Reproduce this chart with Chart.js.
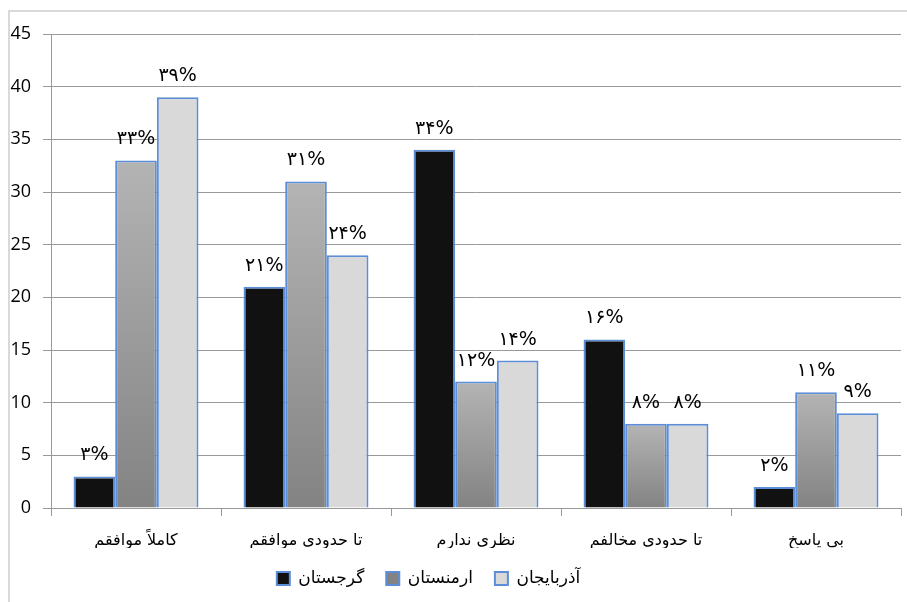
<!DOCTYPE html>
<html>
<head>
<meta charset="utf-8">
<script src="https://cdn.jsdelivr.net/npm/chart.js@4"></script>
<style>
  html, body { margin: 0; padding: 0; background: #fff; }
  #wrap { position: relative; width: 907px; height: 602px; }
</style>
</head>
<body>
<div id="wrap"><canvas id="chart" width="907" height="602"></canvas></div>
<script>
// Data
const categories = ["کاملاً موافقم", "تا حدودی موافقم", "نظری ندارم", "تا حدودی مخالفم", "بی پاسخ"];
const georgia = [3, 21, 34, 16, 2];
const armenia = [33, 31, 12, 8, 11];
const azerbaijan = [39, 24, 14, 8, 9];
const seriesNames = ["گرجستان", "ارمنستان", "آذربایجان"];
const yTicks = [0, 5, 10, 15, 20, 25, 30, 35, 40, 45];

const persianDigits = "۰۱۲۳۴۵۶۷۸۹";
function toPersian(n) {
    return String(n).replace(/[0-9]/g, d => persianDigits[d]);
}

const ctx = document.getElementById("chart").getContext("2d");

// each gray bar gets its own top-to-bottom gradient
function grayGradient(context) {
    const chart = context.chart;
    const y = chart.scales && chart.scales.y;
    if (!y || context.type !== "data") return "#999999";
    const top = y.getPixelForValue(context.raw);
    const bottom = y.getPixelForValue(0);
    if (!isFinite(top) || !isFinite(bottom) || top === bottom) return "#999999";
    const g = chart.ctx.createLinearGradient(0, top, 0, bottom);
    g.addColorStop(0, "#b4b4b4");
    g.addColorStop(1, "#838383");
    return g;
}

// outer frame (only left and top edge fall inside the picture)
const framePlugin = {
    id: "frame",
    beforeDraw(chart) {
        const c = chart.ctx;
        c.save();
        c.strokeStyle = "#d9d9d9";
        c.lineWidth = 2;
        c.strokeRect(9, 11, 1000, 700);
        c.restore();
    }
};

// legend sits a little left of centre in the original
const legendShift = {
    id: "legendShift",
    afterLayout(chart) {
        chart.legend.left -= 22;
        chart.legend.right -= 22;
    }
};

// percent labels above bars
const labelPlugin = {
    id: "barLabels",
    afterDatasetsDraw(chart) {
        const c = chart.ctx;
        c.save();
        c.font = "19px 'DejaVu Sans'";
        c.fillStyle = "#000";
        c.textAlign = "center";
        c.textBaseline = "alphabetic";
        chart.data.datasets.forEach((ds, i) => {
            chart.getDatasetMeta(i).data.forEach((bar, j) => {
                c.fillText(toPersian(ds.data[j]) + "%", bar.x, bar.y - 16);
            });
        });
        c.restore();
    }
};

const border = "#5b8ed6";

const chart = new Chart(ctx, {
    type: "bar",
    data: {
        labels: categories,
        datasets: [
            { label: seriesNames[0], data: georgia, backgroundColor: "#111111", borderColor: border, borderWidth: 2 },
            { label: seriesNames[1], data: armenia, backgroundColor: grayGradient, borderColor: border, borderWidth: 2 },
            { label: seriesNames[2], data: azerbaijan, backgroundColor: "#d9d9d9", borderColor: border, borderWidth: 2 }
        ]
    },
    options: {
        responsive: false,
        animation: false,
        layout: { padding: { top: 34, right: 6, bottom: 5, left: 0 } },
        datasets: { bar: { categoryPercentage: 0.735, barPercentage: 1.0 } },
        scales: {
            x: {
                grid: { drawOnChartArea: false, color: "#999", tickLength: 8, offset: true },
                border: { color: "#999" },
                ticks: { color: "#000", font: { family: "'DejaVu Sans'", size: 16 }, padding: 15, maxRotation: 0 },
                afterFit(scale) { scale.height = 40; }
            },
            y: {
                min: 0,
                max: 45,
                afterBuildTicks(scale) { scale.ticks = yTicks.map(v => ({ value: v })); },
                grid: { color: "#999", tickLength: 8 },
                border: { color: "#999" },
                ticks: { color: "#000", font: { family: "'Open Sans'", size: 18 }, padding: 12 },
                afterFit(scale) { scale.width = 51; }
            }
        },
        plugins: {
            legend: {
                position: "bottom",
                labels: {
                    color: "#000",
                    font: { family: "'DejaVu Sans'", size: 17 },
                    boxWidth: 13,
                    boxHeight: 13,
                    padding: 22
                }
            },
            tooltip: { enabled: false }
        }
    },
    plugins: [framePlugin, legendShift, labelPlugin]
});
</script>
</body>
</html>
